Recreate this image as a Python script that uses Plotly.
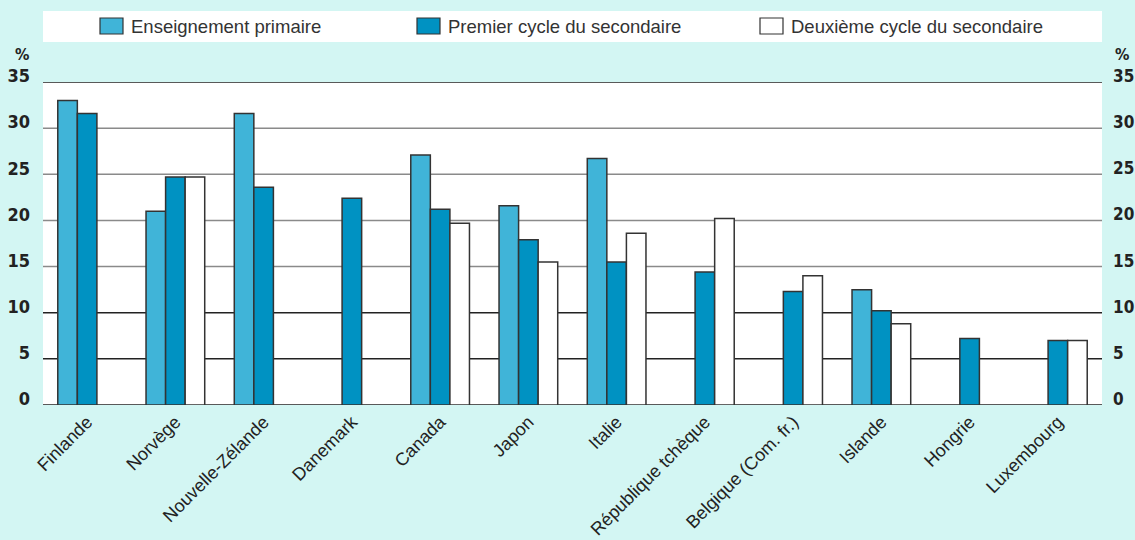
import plotly.graph_objects as go

# Countries along the x axis
countries = [
    "Finlande", "Norvège", "Nouvelle-Zélande", "Danemark", "Canada", "Japon",
    "Italie", "République tchèque", "Belgique (Com. fr.)", "Islande", "Hongrie",
    "Luxembourg",
]

# Series (%), None where no value is reported
primaire = [33.0, 21.0, 31.6, None, 27.1, 21.6, 26.7, None, None, 12.5, None, None]
premier_cycle = [31.6, 24.7, 23.6, 22.4, 21.2, 17.9, 15.5, 14.4, 12.3, 10.2, 7.2, 7.0]
deuxieme_cycle = [None, 24.7, None, None, 19.7, 15.5, 18.6, 20.2, 14.0, 8.8, None, 7.0]

series_names = ["Enseignement primaire", "Premier cycle du secondaire", "Deuxième cycle du secondaire"]
series_values = [primaire, premier_cycle, deuxieme_cycle]
series_colors = ["#40b4d8", "#0092c2", "#ffffff"]

y_ticks = [0, 5, 10, 15, 20, 25, 30, 35]

BG = "#d3f6f3"
OUTLINE = "#333333"
W, H = 1135, 540
M_L, M_R, M_T, M_B = 43, 33, 82, 135
PW = W - M_L - M_R
PH = H - M_T - M_B

NARROW = "DejaVu Sans Condensed, Liberation Sans Narrow, Liberation Sans, Arial"
SANS = "Liberation Sans, Arial, sans-serif"

fig = go.Figure()
for name, vals, col in zip(series_names, series_values, series_colors):
    fig.add_trace(go.Bar(
        x=countries, y=vals, name=name,
        marker=dict(color=col, line=dict(color=OUTLINE, width=1.5)),
        showlegend=False,
    ))

# Invisible trace on the secondary axis so the right-hand labels render
fig.add_trace(go.Bar(x=[countries[0]], y=[0], yaxis="y2", showlegend=False,
                     hoverinfo="skip", marker=dict(opacity=0)))

# Horizontal reference lines (drawn beneath the bars)
shapes = []
for t in y_ticks:
    col = "#222222" if t in (0, 5, 10, 35) else "#8a8a8a"
    shapes.append(dict(type="line", xref="paper", yref="y", x0=0, x1=1, y0=t, y1=t,
                       line=dict(color=col, width=1.5), layer="below"))


def px_x(p):
    return (p - M_L) / PW


def px_y(p):
    return (H - M_B - p) / PH


# Legend band across the top
shapes.append(dict(type="rect", xref="paper", yref="paper",
                   x0=px_x(43), x1=px_x(1102), y0=px_y(42), y1=px_y(11),
                   fillcolor="white", line=dict(width=0), layer="below"))

annotations = []
legend_x = [100, 417, 760]
for name, col, lx in zip(series_names, series_colors, legend_x):
    shapes.append(dict(type="rect", xref="paper", yref="paper",
                       x0=px_x(lx), x1=px_x(lx + 23), y0=px_y(34), y1=px_y(18),
                       fillcolor=col, line=dict(color=OUTLINE, width=1.2)))
    annotations.append(dict(text=name, xref="paper", yref="paper",
                            x=px_x(lx + 29), y=px_y(26), xanchor="left", yanchor="middle",
                            showarrow=False,
                            font=dict(family=SANS, size=18.5, color="#333333")))

# Unit markers above each value axis
for xp, anchor in ((31, "right"), (1113, "left")):
    annotations.append(dict(text="%", xref="paper", yref="paper",
                            x=px_x(xp), y=px_y(55), xanchor=anchor, yanchor="middle",
                            showarrow=False,
                            font=dict(family=NARROW, size=16, color="#222222", weight="bold")))

axis_common = dict(range=[0, 35], tickvals=y_ticks, showgrid=False, zeroline=False,
                   showline=False, ticks="", fixedrange=True, ticklabelshift=-6)

fig.update_layout(
    width=W, height=H,
    margin=dict(l=M_L, r=M_R, t=M_T, b=M_B, autoexpand=False),
    paper_bgcolor=BG, plot_bgcolor="white",
    barmode="group", bargap=0.335, bargroupgap=0,
    xaxis=dict(range=[-0.5, len(countries) - 0.5], tickangle=-45, showgrid=False,
               showline=False, ticks="", fixedrange=True, ticklabelstandoff=2,
               tickfont=dict(family=SANS, size=18, color="#222222")),
    yaxis=dict(side="left", ticklabelstandoff=12,
               tickfont=dict(family=NARROW, size=18, color="#222222", weight="bold"),
               **axis_common),
    yaxis2=dict(side="right", overlaying="y", ticklabelstandoff=10,
                tickfont=dict(family=NARROW, size=17, color="#222222", weight="bold"),
                **axis_common),
    shapes=shapes, annotations=annotations,
    showlegend=False,
)

fig.write_html("out.html")
